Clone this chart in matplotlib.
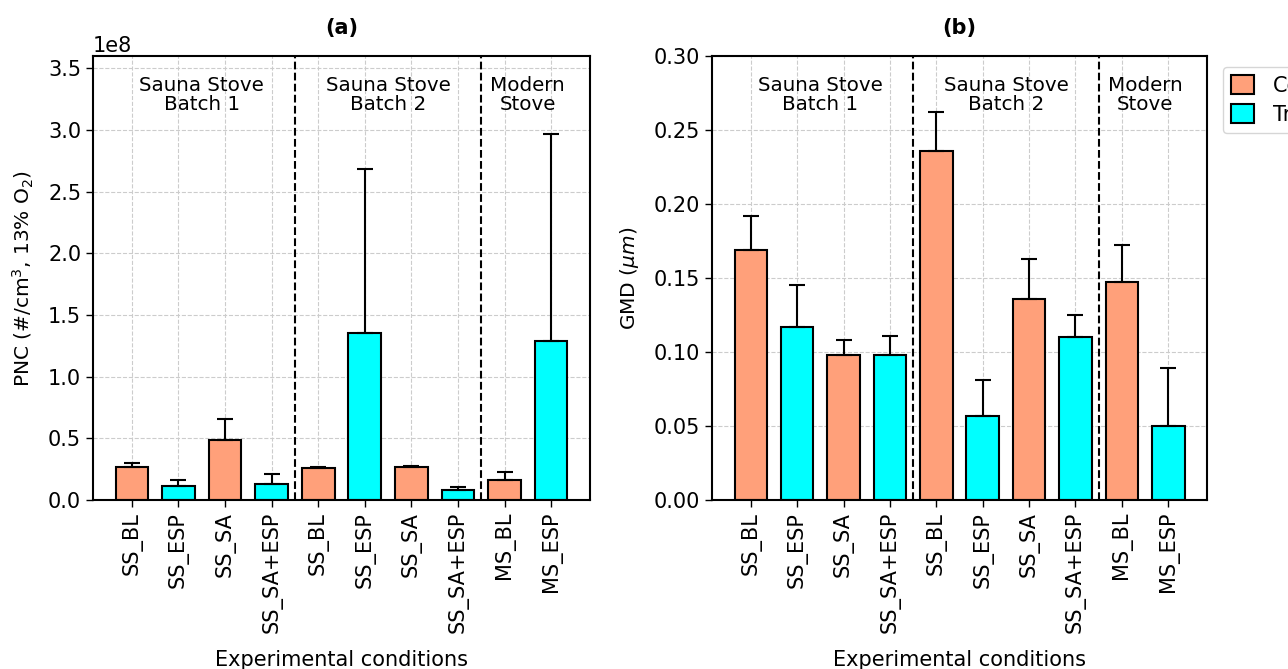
import matplotlib
matplotlib.use("Agg")
import matplotlib.pyplot as plt
import numpy as np

categories = ["SS_BL", "SS_ESP", "SS_SA", "SS_SA+ESP", "SS_BL", "SS_ESP",
              "SS_SA", "SS_SA+ESP", "MS_BL", "MS_ESP"]
groups = ["C", "T", "C", "T", "C", "T", "C", "T", "C", "T"]

pnc_mean = [0.27e8, 0.113e8, 0.485e8, 0.13e8, 0.26e8, 1.355e8, 0.267e8, 0.08e8, 0.16e8, 1.29e8]
pnc_err = [0.032e8, 0.047e8, 0.17e8, 0.08e8, 0.007e8, 1.33e8, 0.008e8, 0.025e8, 0.07e8, 1.68e8]

gmd_mean = [0.169, 0.117, 0.098, 0.098, 0.236, 0.057, 0.136, 0.110, 0.147, 0.050]
gmd_err = [0.023, 0.028, 0.010, 0.013, 0.026, 0.024, 0.027, 0.015, 0.025, 0.039]

section_labels = ["Sauna Stove\nBatch 1", "Sauna Stove\nBatch 2", "Modern\nStove"]
section_centers = [1.5, 5.5, 8.5]
section_dividers = [3.5, 7.5]

legend_labels = ["Control", "Treatment"]
color_map = {"C": "#FFA07A", "T": "#00FFFF"}

fs = 15
fig = plt.figure(figsize=(12.88, 6.69), dpi=100)
ax_a = fig.add_axes([93/1288, 169/669, 497/1288, 444/669])
ax_b = fig.add_axes([712/1288, 169/669, 495/1288, 444/669])

x = np.arange(len(categories))
colors = [color_map[g] for g in groups]

def draw(ax, mean, err, ylabel, title):
    ax.set_axisbelow(True)
    ax.grid(True, linestyle="--", color="#cccccc", linewidth=0.8)
    bars = ax.bar(x, mean, width=0.7, color=colors, edgecolor="black", linewidth=1.5, zorder=2)
    ax.errorbar(x, mean, yerr=[np.zeros(len(err)), err], fmt="none", ecolor="black",
                elinewidth=1.5, capsize=6, capthick=1.5, zorder=3)
    for d in section_dividers:
        ax.axvline(d, color="black", linestyle="--", linewidth=1.5, zorder=4)
    for c, lab in zip(section_centers, section_labels):
        ax.text(c, 0.955, lab, transform=ax.get_xaxis_transform(), ha="center", va="top",
                fontsize=14.3, linespacing=1.0)
    ax.set_xticks(x)
    ax.set_xticklabels(categories, rotation=90, fontsize=fs)
    ax.tick_params(axis="y", labelsize=fs, length=5, width=1)
    ax.tick_params(axis="x", length=5, width=1)
    ax.set_ylabel(ylabel, fontsize=14.5, labelpad=9)
    ax.set_xlabel("Experimental conditions", fontsize=fs, labelpad=12)
    ax.set_title(title, fontsize=fs, fontweight="bold", pad=16)
    for s in ax.spines.values():
        s.set_linewidth(1.5)
    return bars

bars = draw(ax_a, pnc_mean, pnc_err, r"PNC (#/cm$^3$, 13% O$_2$)", "(a)")
ax_a.set_ylim(0, 3.6e8)
ax_a.set_yticks(np.arange(0, 3.51e8, 0.5e8))
ax_a.ticklabel_format(axis="y", style="sci", scilimits=(0, 0))
ax_a.yaxis.get_offset_text().set_fontsize(fs)

draw(ax_b, gmd_mean, gmd_err, r"GMD ($\mu m$)", "(b)")
ax_b.set_ylim(0, 0.30)
ax_b.set_yticks(np.arange(0, 0.301, 0.05))
ax_b.set_yticklabels([f"{v:.2f}" for v in np.arange(0, 0.301, 0.05)])

handles = [bars[0], bars[1]]
fig.legend(handles, legend_labels, loc="upper left", bbox_to_anchor=(1223/1288, 1 - 67/669),
           borderaxespad=0, fontsize=fs, frameon=True, handlelength=1.1, handleheight=1.0,
           handletextpad=0.9, labelspacing=0.4)

fig.savefig("out.png", dpi=100)
